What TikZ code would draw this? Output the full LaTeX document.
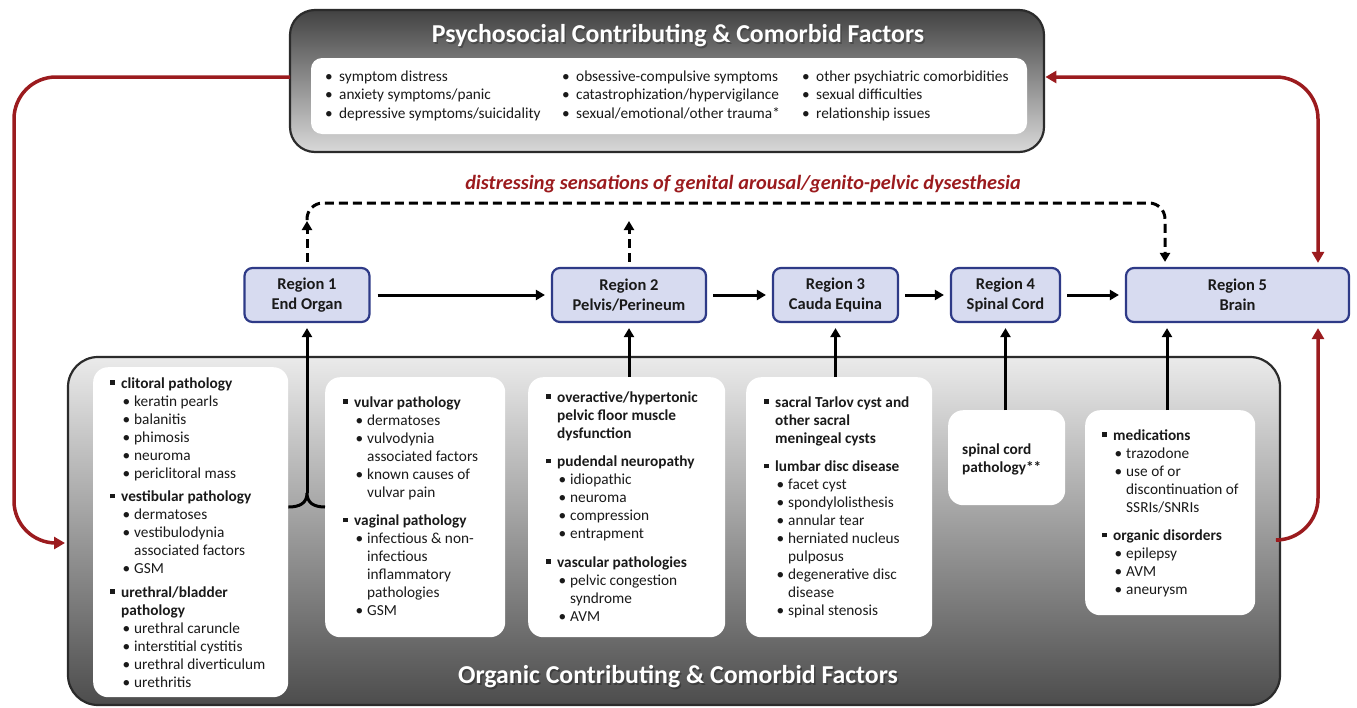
\documentclass[tikz,border=0pt]{standalone}
\usepackage{fontspec}
\setmainfont{Carlito}
\usetikzlibrary{arrows.meta}
\definecolor{dred}{HTML}{9B1B1E}
\definecolor{regfill}{HTML}{D7DBF0}
\definecolor{regdraw}{HTML}{2E3A87}
\definecolor{boxdraw}{HTML}{2B2B2B}
\definecolor{txt}{HTML}{1A1A1A}
\newcommand\sqb{\rule[0.2em]{0.3em}{0.3em}}
\newcommand\Hd[1]{\makebox[11pt][l]{\sqb}&\textbf{#1}\\}
\newcommand\Hc[1]{&\textbf{#1}\\}
\newcommand\Sb[1]{&\makebox[13pt][l]{\hspace{1.5pt}\textbullet}#1\\}
\newcommand\Sc[1]{&\hspace{13pt}#1\\}
\newcommand\Gap[1]{\noalign{\vskip#1}}
\newcommand\Tb[1]{&\makebox[14pt][l]{\textbullet}#1\\}
\tikzset{
  arr/.style={line width=3pt, -{Triangle[length=9pt,width=10pt]}},
  darr/.style={line width=3pt, dash pattern=on 9pt off 5pt, -{Triangle[length=9pt,width=10pt]}},
  dline/.style={line width=3pt, dash pattern=on 9pt off 5pt},
  rline/.style={draw=dred, line width=3.5pt, rounded corners=42pt},
  rtip/.style={-{Triangle[length=11pt,width=12pt]}},
  region/.style={draw=regdraw, fill=regfill, line width=2.2pt, rounded corners=8pt,
    minimum height=54pt, inner sep=0pt, align=center,
    font=\fontsize{16.5}{20.5}\selectfont\bfseries, text=txt},
  wbox/.style={fill=white, rounded corners=15pt, inner sep=0pt, anchor=north west},
  list/.style={anchor=base west, inner sep=0pt, text=txt,
    font=\fontsize{15.3}{18}\selectfont},
  ttl/.style={inner sep=0pt, font=\fontsize{25.8}{30}\selectfont\bfseries},
}
\begin{document}
\begin{tikzpicture}[x=1pt,y=-1pt]
\useasboundingbox (0,0) rectangle (1357,707);
% ---------- top box
\shade[top color=black!74, bottom color=black!15, rounded corners=25pt]
  (290,10) rectangle (1044,152);
\draw[boxdraw, line width=2.2pt, rounded corners=25pt] (290,10) rectangle (1044,152);
\node[inner sep=0pt, minimum width=754pt, minimum height=142pt, anchor=north west] (top) at (290,10) {};
\fill[white, rounded corners=11pt] (311,58) rectangle (1027,134);
\node[ttl, text=black!75, opacity=0.7] (ttlsh) at (679.5,37.5) {Psychosocial Contributing \& Comorbid Factors};
\node[ttl, text=white] (ttltop) at (678,36) {Psychosocial Contributing \& Comorbid Factors};
\node[list, font=\fontsize{15.3}{18.5}\selectfont] (c1) at (325,81) {\begin{tabular}[t]{@{}l@{}l@{}}
\Tb{symptom distress}\Tb{anxiety symptoms/panic}\Tb{depressive symptoms/suicidality}\end{tabular}};
\node[list, font=\fontsize{15.3}{18.5}\selectfont] (c2) at (562,81) {\begin{tabular}[t]{@{}l@{}l@{}}
\Tb{obsessive-compulsive symptoms}\Tb{catastrophization/hypervigilance}\Tb{sexual/emotional/other trauma*}\end{tabular}};
\node[list, font=\fontsize{15.3}{18.5}\selectfont] (c3) at (802,81) {\begin{tabular}[t]{@{}l@{}l@{}}
\Tb{other psychiatric comorbidities}\Tb{sexual difficulties}\Tb{relationship issues}\end{tabular}};
% ---------- organic box
\shade[top color=black!8, bottom color=black!70, rounded corners=30pt]
  (68,357) rectangle (1280,705);
\draw[boxdraw, line width=2.2pt, rounded corners=30pt] (68,357) rectangle (1280,705);
\node[inner sep=0pt, minimum width=1212pt, minimum height=348pt, anchor=north west] (org) at (68,357) {};
\node[ttl, text=black!80, opacity=0.7] (ttlsh2) at (679.5,678.5) {Organic Contributing \& Comorbid Factors};
\node[ttl, text=white] (ttlorg) at (678,677) {Organic Contributing \& Comorbid Factors};
% white boxes
\node[wbox, minimum width=195pt, minimum height=330pt] (b1) at (93,367) {};
\node[wbox, minimum width=180pt, minimum height=260pt] (b2) at (325,377) {};
\node[wbox, minimum width=197pt, minimum height=260pt] (b3) at (528,377) {};
\node[wbox, minimum width=186pt, minimum height=260pt] (b4) at (746,377) {};
\node[wbox, minimum width=117pt, minimum height=95pt] (b5) at (948,410) {};
\node[wbox, minimum width=170pt, minimum height=205pt] (b6) at (1085,410) {};
\node[list] (t1) at (110,388) {\begin{tabular}[t]{@{}l@{}l@{}}
\Hd{clitoral pathology}
\Sb{keratin pearls}
\Sb{balanitis}
\Sb{phimosis}
\Sb{neuroma}
\Sb{periclitoral mass}
\Gap{5.5pt}
\Hd{vestibular pathology}
\Sb{dermatoses}
\Sb{vestibulodynia}
\Sc{associated factors}
\Sb{GSM}
\Gap{5.5pt}
\Hd{urethral/bladder}
\Hc{pathology}
\Sb{urethral caruncle}
\Sb{interstitial cystitis}
\Sb{urethral diverticulum}
\Sb{urethritis}
\end{tabular}};
\node[list] (t2) at (343,407) {\begin{tabular}[t]{@{}l@{}l@{}}
\Hd{vulvar pathology}
\Sb{dermatoses}
\Sb{vulvodynia}
\Sc{associated factors}
\Sb{known causes of}
\Sc{vulvar pain}
\Gap{10.5pt}
\Hd{vaginal pathology}
\Sb{infectious \& non-}
\Sc{infectious}
\Sc{inflammatory}
\Sc{pathologies}
\Sb{GSM}
\end{tabular}};
\node[list] (t3) at (546,402) {\begin{tabular}[t]{@{}l@{}l@{}}
\Hd{overactive/hypertonic}
\Hc{pelvic floor muscle}
\Hc{dysfunction}
\Gap{10.5pt}
\Hd{pudendal neuropathy}
\Sb{idiopathic}
\Sb{neuroma}
\Sb{compression}
\Sb{entrapment}
\Gap{10.5pt}
\Hd{vascular pathologies}
\Sb{pelvic congestion}
\Sc{syndrome}
\Sb{AVM}
\end{tabular}};
\node[list] (t4) at (764,407) {\begin{tabular}[t]{@{}l@{}l@{}}
\Hd{sacral Tarlov cyst and}
\Hc{other sacral}
\Hc{meningeal cysts}
\Gap{10.5pt}
\Hd{lumbar disc disease}
\Sb{facet cyst}
\Sb{spondylolisthesis}
\Sb{annular tear}
\Sb{herniated nucleus}
\Sc{pulposus}
\Sb{degenerative disc}
\Sc{disease}
\Sb{spinal stenosis}
\end{tabular}};
\node[list] (t5) at (962,454) {\begin{tabular}[t]{@{}l@{}}
\textbf{spinal cord}\\\textbf{pathology**}
\end{tabular}};
\node[list] (t6) at (1102,440) {\begin{tabular}[t]{@{}l@{}l@{}}
\Hd{medications}
\Sb{trazodone}
\Sb{use of or}
\Sc{discontinuation of}
\Sc{SSRIs/SNRIs}
\Gap{10.5pt}
\Hd{organic disorders}
\Sb{epilepsy}
\Sb{AVM}
\Sb{aneurysm}
\end{tabular}};
% ---------- regions
\node[region, minimum width=125pt] (R1) at (307,295) {Region 1\\End Organ};
\node[region, minimum width=154pt] (R2) at (629,295) {Region 2\\Pelvis/Perineum};
\node[region, minimum width=125pt] (R3) at (835.5,295) {Region 3\\Cauda Equina};
\node[region, minimum width=109pt] (R4) at (1005.5,295) {Region 4\\Spinal Cord};
\node[region, minimum width=223pt] (R5) at (1237.5,295) {Region 5\\Brain};
\draw[arr, shorten <=7pt, shorten >=6pt] (R1.east) -- (R2.west);
\draw[arr, shorten <=6pt, shorten >=6pt] (R2.east) -- (R3.west);
\draw[arr, shorten <=6pt, shorten >=6pt] (R3.east) -- (R4.west);
\draw[arr, shorten <=6pt, shorten >=6pt] (R4.east) -- (R5.west);
% ---------- dashed
\node[font=\fontsize{20.3}{24}\selectfont\bfseries\itshape, text=dred, inner sep=0pt] (lab) at (743,184)
  {distressing sensations of genital arousal/genito-pelvic dysesthesia};
\coordinate (d1) at (307,221);
\coordinate (d2) at (629,221);
\coordinate (dh) at (1165,203);
\coordinate (d5) at (1165,295);
\draw[darr, shorten <=5pt] (R1.north) -- (d1);
\draw[darr, shorten <=5pt] (R2.north) -- (d2);
\draw[dline, rounded corners=16pt, -{Triangle[length=9pt,width=10pt]}, shorten >=5pt]
  ([yshift=1pt]d1) -- (d1 |- dh) -- (dh) -- (d5 |- R5.north);
% ---------- vertical arrows
\coordinate (bj) at (307,493);
\draw[line width=3pt] (b1.east |- 0,507) .. controls (300,507) and (307,503) .. (bj)
  .. controls (307,503) and (314,507) .. (b2.west |- 0,507);
\draw[arr, shorten >=5pt] (bj) -- (R1.south);
\draw[arr, shorten >=5pt] (R2.south |- b3.north) -- (R2.south);
\draw[arr, shorten >=5pt] (R3.south |- b4.north) -- (R3.south);
\draw[arr, shorten >=5pt] (R4.south |- b5.north) -- (R4.south);
\coordinate (v5) at (1167,0);
\draw[arr, shorten >=5pt] (v5 |- b6.north) -- (v5 |- R5.south);
% ---------- red arrows
\coordinate (rl) at (14,77);
\coordinate (rr) at (1318,77);
\coordinate (rb) at (1318,540);
\draw[rline, rtip, shorten >=3pt] (top.west |- rl) -- (rl) -- (rl |- 0,543) -- (org.west |- 0,543);
\draw[rline, {Triangle[length=11pt,width=12pt]}-{Triangle[length=11pt,width=12pt]}, shorten <=1pt, shorten >=4pt]
  (top.east |- rr) -- (rr) -- (rr |- R5.north);
\draw[rline, rtip, shorten >=5pt] (org.east |- rb) -- (rb) -- (rb |- R5.south);
\end{tikzpicture}
\end{document}
